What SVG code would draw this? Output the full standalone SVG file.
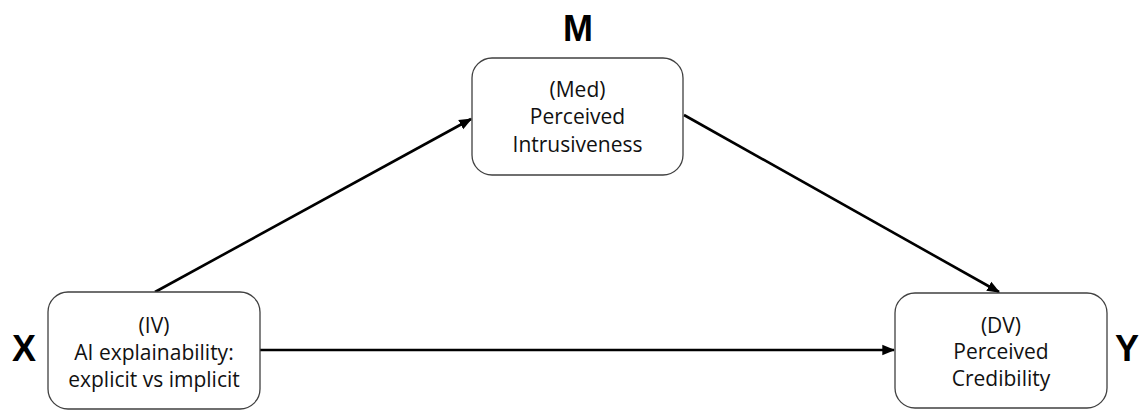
<svg xmlns="http://www.w3.org/2000/svg" width="1141" height="410" viewBox="0 0 1141 410">
<style>
.box{fill:#fff;stroke:#404040;stroke-width:1.3}
.t{font-family:"Open Sans","Liberation Sans",sans-serif;font-size:21px;fill:#111;text-anchor:middle}
.lbl{font-family:"Liberation Sans",Arial,sans-serif;font-weight:bold;font-size:36px;fill:#000;text-anchor:middle}
.c{stroke:#000;stroke-width:2.6;fill:none;marker-end:url(#ah)}
</style>
<defs>
<marker id="ah" viewBox="0 0 10 10" refX="9" refY="5" markerWidth="5" markerHeight="5" orient="auto" markerUnits="strokeWidth">
<path d="M0,1 L10,5 L0,9 Z" fill="#000"/>
</marker>
</defs>
<g id="connectors">
<line class="c" x1="155" y1="292" x2="471" y2="119"/>
<line class="c" x1="684" y1="115" x2="999" y2="292"/>
<line class="c" x1="260" y1="350" x2="894" y2="350"/>
</g>
<g id="nodeM">
<rect class="box" x="472" y="58" width="211" height="117" rx="20"/>
<text class="t" x="577.5" y="97">(Med)</text>
<text class="t" x="577.5" y="124">Perceived</text>
<text class="t" x="577.5" y="152">Intrusiveness</text>
</g>
<g id="nodeX">
<rect class="box" x="48" y="292" width="212" height="117" rx="20"/>
<text class="t" x="154" y="333">(IV)</text>
<text class="t" x="154" y="360">AI explainability:</text>
<text class="t" x="154" y="387">explicit vs implicit</text>
</g>
<g id="nodeY">
<rect class="box" x="895" y="293" width="212" height="115" rx="20"/>
<text class="t" x="1001" y="333">(DV)</text>
<text class="t" x="1001" y="359">Perceived</text>
<text class="t" x="1001" y="386">Credibility</text>
</g>
<g id="labels">
<text class="lbl" x="578" y="41">M</text>
<text class="lbl" x="24" y="361">X</text>
<text class="lbl" x="1127" y="361">Y</text>
</g>
</svg>
